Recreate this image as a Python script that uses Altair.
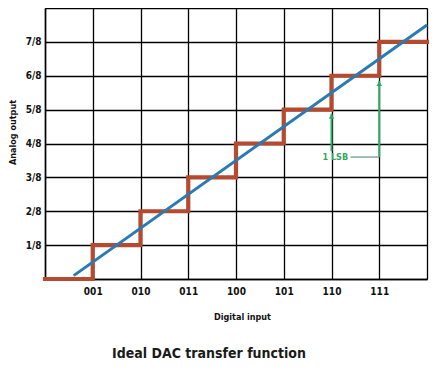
import altair as alt
import pandas as pd

# ---- data ----
codes = [0, 1, 2, 3, 4, 5, 6, 7, 8]
step_output = [0, 1, 2, 3, 4, 5, 6, 7, 7]          # eighths of full scale
x_tick_labels = ["", "001", "010", "011", "100", "101", "110", "111", ""]
y_tick_labels = ["", "1/8", "2/8", "3/8", "4/8", "5/8", "6/8", "7/8", ""]
ideal_x = [0.6, 8.0]
ideal_y = [0.1, 7.5]
arrow_x = [6, 7]
arrow_bottom = [3.77, 3.6]
arrow_tip = [4.88, 5.85]
lsb_label_x = 6.08
lsb_label_y = 3.6
lsb_line_x = [6.4, 7.0]

FONT = "DejaVu Sans Condensed, DejaVu Sans, sans-serif"
RED = "#b44a30"
BLUE = "#2a7ab3"
GREEN = "#34a765"

steps = pd.DataFrame({"x": codes, "y": step_output})
ideal = pd.DataFrame({"x": ideal_x, "y": ideal_y})
arrows = pd.DataFrame({"x": arrow_x, "y": arrow_bottom, "y2": arrow_tip})
heads = pd.DataFrame({"x": arrow_x, "y": [t - 0.08 for t in arrow_tip]})
lsb_line = pd.DataFrame({"x": [lsb_line_x[0]], "x2": [lsb_line_x[1]], "y": [lsb_label_y]})
lsb_text = pd.DataFrame({"x": [lsb_label_x], "y": [lsb_label_y], "t": ["1 LSB"]})

xlab = "[" + ",".join(f"'{s}'" for s in x_tick_labels) + "][datum.value]"
ylab = "[" + ",".join(f"'{s}'" for s in y_tick_labels) + "][datum.value]"

xscale = alt.Scale(domain=[0, 8], nice=False, zero=False)
yscale = alt.Scale(domain=[0, 8], nice=False, zero=False)

xaxis = alt.Axis(values=codes, labelExpr=xlab, grid=True, gridColor="black", gridWidth=1.3,
                 gridOpacity=1, ticks=False, domain=True, domainColor="black", domainWidth=1.5,
                 labelFont=FONT, labelFontSize=10, labelFontWeight="bold", labelColor="#111",
                 labelPadding=7, labelOverlap=False, labelFlush=False,
                 title="Digital input", titleFont=FONT, titleFontSize=9,
                 titleFontWeight="bold", titleColor="#111", titleX=197, titleY=37,
                 titleBaseline="middle", titleAlign="center")
yaxis = alt.Axis(values=codes, labelExpr=ylab, grid=True, gridColor="black", gridWidth=1.3,
                 gridOpacity=1, ticks=False, domain=True, domainColor="black", domainWidth=1.5,
                 labelFont=FONT, labelFontSize=10, labelFontWeight="bold", labelColor="#111",
                 labelPadding=4, labelOverlap=False, labelFlush=False, labelBound=False,
                 title="Analog output", titleFont=FONT, titleFontSize=9,
                 titleFontWeight="bold", titleColor="#111", titleX=-33, titleY=124,
                 titleAngle=270, titleBaseline="middle", titleAlign="center")

ex = alt.X("x:Q", scale=xscale, axis=xaxis)
ey = alt.Y("y:Q", scale=yscale, axis=yaxis)

step_layer = alt.Chart(steps).mark_line(color=RED, strokeWidth=4.2, interpolate="step-after",
                                        strokeCap="square").encode(x=ex, y=ey)
ideal_layer = alt.Chart(ideal).mark_line(color=BLUE, strokeWidth=3).encode(x=ex, y=ey)
arrow_layer = alt.Chart(arrows).mark_rule(color=GREEN, strokeWidth=2).encode(
    x=ex, y=ey, y2="y2:Q")
head_layer = alt.Chart(heads).mark_point(shape="triangle-up", filled=True, size=30,
                                         color=GREEN, opacity=1).encode(x=ex, y=ey)
lsb_line_layer = alt.Chart(lsb_line).mark_rule(color="#7aa597", strokeWidth=1.4).encode(
    x=ex, x2="x2:Q", y=ey)
lsb_text_layer = alt.Chart(lsb_text).mark_text(color=GREEN, font=FONT, fontSize=9,
                                               fontWeight="bold", align="center",
                                               baseline="middle").encode(
    x=ex, y=ey, text="t:N")

chart = alt.layer(step_layer, ideal_layer, arrow_layer, head_layer, lsb_line_layer,
                  lsb_text_layer).properties(
    width=382, height=271,
    autosize=alt.AutoSizeParams(type="none"),
    padding={"left": 37, "top": 0, "right": 12, "bottom": 82},
    title=alt.TitleParams("Ideal DAC transfer function", orient="bottom", anchor="middle",
                          font=FONT, fontSize=14, fontWeight="bold", color="#1a1a1a",
                          dx=-27, offset=26),
).configure_view(stroke="black", strokeWidth=1.5).configure(background="white")

chart.save("out.html", embed_options={"renderer": "svg", "actions": False})
